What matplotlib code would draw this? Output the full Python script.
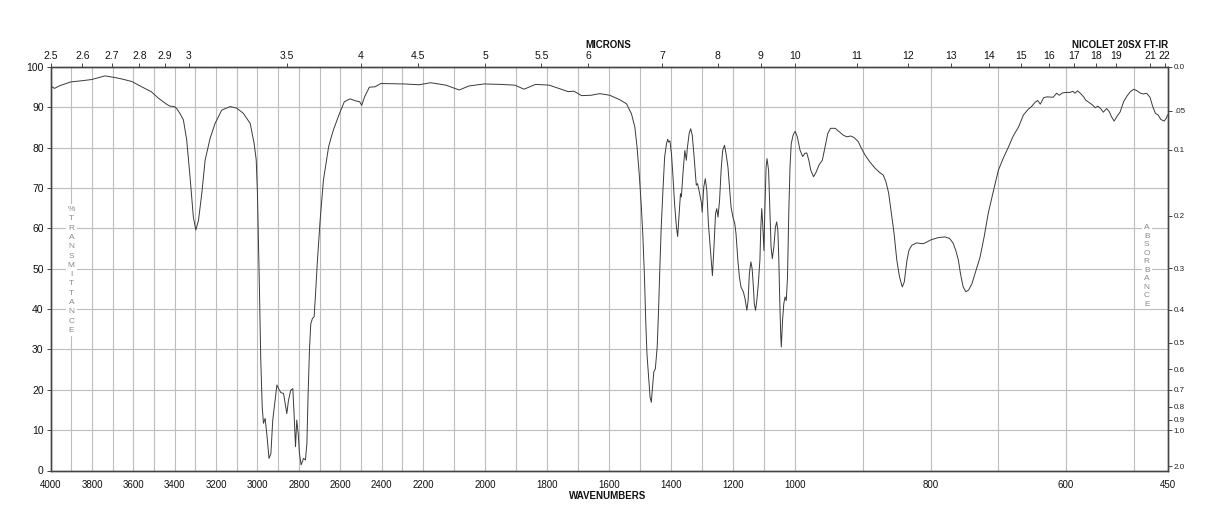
import numpy as np
import matplotlib
matplotlib.use("Agg")
import matplotlib.pyplot as plt

plt.rcParams['font.family'] = ['Liberation Sans', 'DejaVu Sans']

# ---------------- data ----------------
wavenumber = [
    4000, 3981, 3959, 3903, 3848, 3801, 3737, 3690, 3653, 3607, 3560, 3514, 3477, 3440,
    3423, 3403, 3390, 3375, 3358, 3342, 3326, 3310, 3298, 3285, 3269, 3253, 3229, 3205,
    3173, 3132, 3100, 3068, 3035, 3016, 3006, 3000, 2995, 2990, 2984, 2977, 2971, 2963,
    2955, 2944, 2935, 2926, 2915, 2906, 2898, 2887, 2874, 2866, 2858, 2850, 2839, 2829,
    2823, 2816, 2810, 2803, 2797, 2789, 2777, 2768, 2761, 2755, 2748, 2742, 2734, 2726,
    2719, 2710, 2697, 2681, 2656, 2644, 2632, 2607, 2580, 2552, 2525, 2506, 2496, 2482,
    2459, 2431, 2404, 2292, 2218, 2175, 2126, 2083, 2052, 2003, 1954, 1904, 1874, 1837,
    1793, 1763, 1732, 1713, 1689, 1658, 1630, 1598, 1566, 1544, 1528, 1517, 1510, 1503,
    1496, 1491, 1486, 1482, 1478, 1472, 1468, 1464, 1461, 1456, 1451, 1445, 1441, 1437,
    1432, 1426, 1421, 1415, 1411, 1408, 1404, 1399, 1394, 1389, 1383, 1379, 1375, 1370,
    1367, 1362, 1356, 1351, 1348, 1342, 1337, 1332, 1326, 1319, 1315, 1308, 1302, 1300,
    1295, 1290, 1285, 1280, 1274, 1270, 1267, 1262, 1257, 1253, 1249, 1244, 1239, 1234,
    1228, 1223, 1217, 1212, 1207, 1201, 1195, 1191, 1185, 1180, 1175, 1167, 1162, 1156,
    1152, 1148, 1143, 1139, 1135, 1132, 1128, 1124, 1119, 1114, 1111, 1108, 1105, 1101,
    1098, 1094, 1091, 1086, 1082, 1078, 1074, 1069, 1064, 1060, 1056, 1053, 1050, 1047,
    1045, 1041, 1037, 1033, 1029, 1025, 1021, 1017, 1013, 1007, 1002, 1000, 997, 993,
    989, 986, 983, 980, 977, 973, 969, 965, 960, 956, 952, 948, 941, 936, 929, 924, 918,
    913, 907, 903, 897, 890, 882, 875, 870, 866, 862, 858, 854, 850, 846, 842, 839, 835,
    832, 828, 821, 811, 806, 799, 789, 779, 772, 767, 763, 759, 756, 752, 748, 744, 739,
    733, 727, 721, 715, 707, 700, 693, 685, 678, 670, 663, 656, 651, 646, 642, 638, 633,
    628, 619, 614, 610, 605, 599, 594, 590, 587, 583, 579, 574, 571, 566, 561, 557, 553,
    549, 545, 540, 536, 533, 529, 525, 520, 515, 510, 505, 500, 495, 491, 486, 481, 476,
    472, 468, 464, 460, 455, 452, 450,
]
transmittance = [
    95.3, 94.7, 95.3, 96.3, 96.6, 96.9, 97.8, 97.4, 97.0, 96.4, 95.1, 93.9, 92.2, 90.8,
    90.3, 90.2, 89.7, 88.5, 86.9, 81.9, 72.8, 62.9, 59.6, 62.0, 68.7, 76.9, 82.3, 86.0,
    89.3, 90.2, 89.8, 88.5, 86.0, 81.0, 77.0, 68.7, 56.3, 43.9, 27.4, 15.8, 11.7, 12.9,
    9.2, 3.0, 4.2, 12.5, 17.4, 21.2, 20.3, 19.3, 19.1, 16.6, 14.1, 17.4, 19.9, 20.3,
    14.1, 5.9, 12.5, 9.2, 4.2, 1.4, 3.0, 2.6, 6.7, 19.1, 30.7, 36.4, 37.7, 38.1,
    43.9, 52.1, 62.0, 72.0, 80.2, 82.5, 84.5, 88.0, 91.4, 92.1, 91.6, 91.4, 90.5, 92.6,
    95.0, 95.1, 95.9, 95.8, 95.6, 96.1, 95.5, 94.3, 95.3, 95.8, 95.7, 95.5, 94.5, 95.7,
    95.5, 94.7, 93.9, 94.0, 92.9, 93.0, 93.4, 93.0, 91.9, 90.9, 88.4, 85.1, 80.2, 73.6,
    65.3, 57.9, 47.9, 37.2, 28.9, 22.3, 18.2, 16.9, 19.8, 24.4, 25.2, 30.6, 38.8, 48.8,
    60.3, 70.2, 77.7, 81.0, 82.1, 81.4, 81.7, 78.5, 72.7, 66.1, 60.3, 58.0, 62.8, 68.6,
    67.8, 73.6, 79.3, 76.9, 79.8, 83.5, 84.7, 83.1, 77.7, 70.7, 71.1, 68.6, 66.1, 64.0,
    70.2, 72.3, 69.4, 61.2, 55.4, 51.2, 48.3, 55.4, 63.6, 64.9, 62.8, 66.9, 74.4, 79.3,
    80.6, 78.5, 75.2, 70.2, 65.3, 62.8, 61.2, 58.7, 52.1, 47.9, 45.5, 44.2, 42.6, 39.7,
    42.1, 48.8, 51.7, 50.0, 45.5, 41.3, 39.7, 42.1, 46.3, 52.1, 60.3, 64.9, 61.2, 54.5,
    64.5, 75.2, 77.3, 74.4, 65.3, 55.4, 52.5, 55.4, 60.3, 61.6, 59.5, 52.1, 42.1, 33.9,
    30.6, 37.2, 41.3, 43.0, 42.1, 47.9, 63.6, 75.2, 81.0, 83.1, 83.9, 84.0, 82.7, 79.4,
    77.8, 78.6, 78.7, 76.9, 74.4, 72.8, 74.0, 75.7, 76.9, 80.2, 83.5, 84.8, 84.8, 84.1,
    83.1, 82.7, 82.9, 82.5, 81.5, 80.1, 78.2, 76.5, 74.9, 73.8, 73.2, 71.5, 68.7, 63.7,
    58.7, 52.1, 48.0, 45.5, 46.7, 52.1, 54.6, 55.8, 56.4, 56.2, 56.6, 57.2, 57.7, 57.9,
    57.5, 56.4, 54.6, 52.1, 48.8, 45.5, 44.3, 44.7, 46.3, 49.6, 52.9, 57.9, 63.7, 69.5,
    74.4, 77.3, 80.2, 82.9, 85.2, 88.1, 89.5, 90.2, 91.2, 91.7, 90.8, 92.4, 92.6, 92.5,
    93.5, 93.0, 93.6, 93.7, 93.7, 94.0, 93.5, 94.1, 93.5, 92.6, 91.8, 91.2, 90.6, 89.9,
    90.3, 89.7, 88.8, 89.7, 88.9, 87.7, 86.6, 87.7, 88.9, 91.4, 92.8, 93.9, 94.5, 94.1,
    93.6, 93.3, 93.5, 92.5, 90.2, 88.5, 88.1, 87.0, 86.6, 87.3, 88.1,
]

bottom_ticks = [4000, 3800, 3600, 3400, 3200, 3000, 2800, 2600, 2400, 2200, 2000,
                1800, 1600, 1400, 1200, 1000, 800, 600, 450]
micron_ticks = [2.5, 2.6, 2.7, 2.8, 2.9, 3, 3.5, 4, 4.5, 5, 5.5, 6, 7, 8, 9, 10,
                11, 12, 13, 14, 15, 16, 17, 18, 19, 21, 22]
micron_labels = ['2.5', '2.6', '2.7', '2.8', '2.9', '3', '3.5', '4', '4.5', '5', '5.5',
                 '6', '7', '8', '9', '10', '11', '12', '13', '14', '15', '16', '17',
                 '18', '19', '21', '22']
absorbance_ticks = [0.0, 0.05, 0.1, 0.2, 0.3, 0.4, 0.5, 0.6, 0.7, 0.8, 0.9, 1.0, 2.0]
absorbance_labels = ['0.0', '.05', '0.1', '0.2', '0.3', '0.4', '0.5', '0.6', '0.7',
                     '0.8', '0.9', '1.0', '2.0']


# piecewise x-scale: 4000-2200, 2200-1000, 1000-450 each take one third
def fwd(x):
    x = np.asarray(x, dtype=float)
    return np.where(x < 1000, (x - 450) / 550.0,
                    np.where(x < 2200, 1 + (x - 1000) / 1200.0, 2 + (x - 2200) / 1800.0))


def inv(u):
    u = np.asarray(u, dtype=float)
    return np.where(u < 1, 450 + u * 550.0,
                    np.where(u < 2, 1000 + (u - 1) * 1200.0, 2200 + (u - 2) * 1800.0))


W, H = 1218, 528
fig = plt.figure(figsize=(W / 100, H / 100), dpi=100)
L, R, T, B = 50.6, 1167.6, 67.0, 470.5
ax = fig.add_axes([L / W, 1 - B / H, (R - L) / W, (B - T) / H])

grid_col = '#bdbdbd'
spine_col = '#444444'
line_col = '#3a3a3a'

ax.set_xscale('function', functions=(fwd, inv))
ax.set_xlim(4000, 450)
ax.set_ylim(0, 100)

ax.plot(wavenumber, transmittance, color=line_col, lw=0.7, zorder=3)

ax.set_xticks(bottom_ticks)
ax.set_xticklabels([str(t) for t in bottom_ticks])
ax.set_xticks(list(range(500, 4000, 100)), minor=True)
ax.set_yticks(list(range(0, 101, 10)))
ax.grid(True, which='both', axis='x', color=grid_col, lw=0.8)
ax.grid(True, which='major', axis='y', color=grid_col, lw=0.8)
ax.set_axisbelow(True)
ax.tick_params(axis='x', which='both', length=0, pad=7, labelsize=7, colors='#111111')
ax.tick_params(axis='y', which='major', length=3, width=0.7, direction='out', pad=2,
               labelsize=7.5, colors='#111111')
ax.tick_params(axis='y', color=spine_col)
for s in ax.spines.values():
    s.set_color(spine_col)
    s.set_linewidth(0.9)

# top axis: microns
ax2 = ax.twiny()
ax2.set_xscale('function', functions=(fwd, inv))
ax2.set_xlim(4000, 450)
ax2.set_xticks([10000.0 / m for m in micron_ticks])
ax2.set_xticklabels(micron_labels)
ax2.set_xticks([], minor=True)
ax2.tick_params(axis='x', which='major', length=3, width=0.7, direction='out', pad=1.5,
                labelsize=7.5, colors='#111111')
ax2.tick_params(axis='x', color=spine_col)

# right axis: absorbance
ax3 = ax.twinx()
ax3.set_ylim(0, 100)
ax3.set_yticks([100 * 10 ** (-a) for a in absorbance_ticks])
ax3.set_yticklabels(absorbance_labels)
ax3.set_yticks([], minor=True)
ax3.tick_params(axis='y', which='major', length=3, width=0.7, direction='out', pad=1.5,
                labelsize=5.8, colors='#222222')
ax3.tick_params(axis='y', color=spine_col)
for a in (ax2, ax3):
    for s in a.spines.values():
        s.set_color(spine_col)
        s.set_linewidth(0.9)


def fx(px):
    return px / W


def fy(py):
    return 1 - py / H


fig.text(fx(608.5), fy(45), 'MICRONS', ha='center', va='center', fontsize=7,
         fontweight='bold', color='#111111')
fig.text(fx(1168), fy(45), 'NICOLET 20SX FT-IR', ha='right', va='center', fontsize=7,
         fontweight='bold', color='#111111')
fig.text(fx(608), fy(496), 'WAVENUMBERS', ha='center', va='center', fontsize=7,
         fontweight='bold', color='#111111')

fig.text(fx(71.3), fy(270), '\n'.join(list('%TRANSMITTANCE')), ha='center', va='center',
         fontsize=6, color='#8a8a8a', linespacing=1.46, zorder=5,
         bbox=dict(facecolor='white', edgecolor='none', pad=1.2))
fig.text(fx(1146.7), fy(265.8), '\n'.join(list('ABSORBANCE')), ha='center', va='center',
         fontsize=6, color='#8a8a8a', linespacing=1.3, zorder=5,
         bbox=dict(facecolor='white', edgecolor='none', pad=1.2))

fig.savefig('out.png', dpi=100)
